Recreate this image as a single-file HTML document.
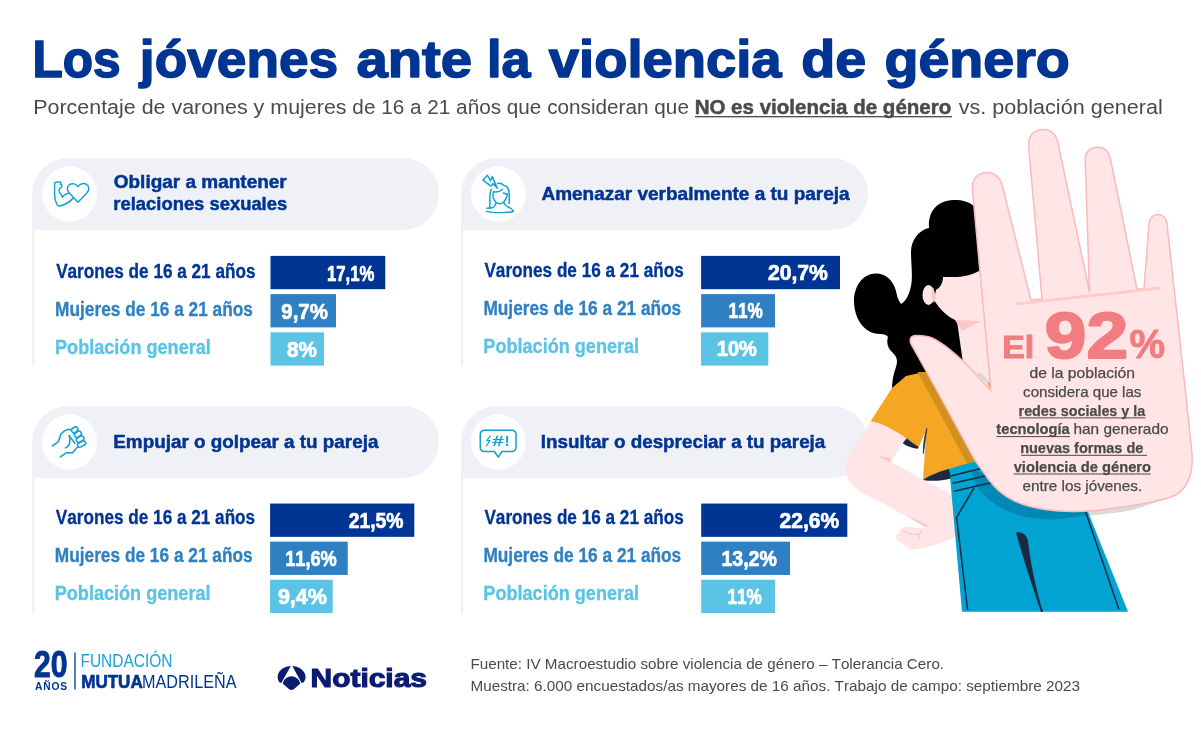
<!DOCTYPE html>
<html lang="es"><head><meta charset="utf-8"><title>Los jóvenes ante la violencia de género</title>
<style>
html,body{margin:0;padding:0;background:#fff}
svg{display:block}
text{font-family:"Liberation Sans",sans-serif;font-kerning:none}
.b{font-weight:bold}
</style></head><body>
<svg width="1201" height="731" viewBox="0 0 1201 731">
<rect width="1201" height="731" fill="#fff"/>

<text id="title" y="76.8" fill="#003594"><tspan x="32.43" font-size="51.5" class="b" stroke="#003594" stroke-width="1.5" stroke-linejoin="round" textLength="88.15" lengthAdjust="spacingAndGlyphs">Los</tspan> <tspan x="139.88" font-size="51.5" class="b" stroke="#003594" stroke-width="1.5" stroke-linejoin="round" textLength="198.25" lengthAdjust="spacingAndGlyphs">jóvenes</tspan> <tspan x="356.4" font-size="51.5" class="b" stroke="#003594" stroke-width="1.5" stroke-linejoin="round" textLength="115.77" lengthAdjust="spacingAndGlyphs">ante</tspan> <tspan x="487.11" font-size="51.5" class="b" stroke="#003594" stroke-width="1.5" stroke-linejoin="round" textLength="43.51" lengthAdjust="spacingAndGlyphs">la</tspan> <tspan x="548.84" font-size="51.5" class="b" stroke="#003594" stroke-width="1.5" stroke-linejoin="round" textLength="232.77" lengthAdjust="spacingAndGlyphs">violencia</tspan> <tspan x="801.17" font-size="51.5" class="b" stroke="#003594" stroke-width="1.5" stroke-linejoin="round" textLength="64.99" lengthAdjust="spacingAndGlyphs">de</tspan> <tspan x="884.47" font-size="51.5" class="b" stroke="#003594" stroke-width="1.5" stroke-linejoin="round" textLength="185.25" lengthAdjust="spacingAndGlyphs">género</tspan></text>
<text id="subtitle" y="114.3" fill="#4a4a4a"><tspan x="33.24" font-size="20.5" textLength="313.28" lengthAdjust="spacingAndGlyphs">Porcentaje de varones y mujeres</tspan> <tspan x="352.38" font-size="20.5" textLength="336.54" lengthAdjust="spacingAndGlyphs">de 16 a 21 años que consideran que</tspan> <tspan x="694.63" font-size="20.8" class="b" stroke="#4a4a4a" stroke-width="0.5" stroke-linejoin="round" textLength="256.67" lengthAdjust="spacingAndGlyphs">NO es violencia de género</tspan> <tspan x="958.68" font-size="20.5" textLength="204.02" lengthAdjust="spacingAndGlyphs">vs. población general</tspan></text>
<rect x="695" y="116.05" width="257" height="1.3" fill="#4a4a4a"/>
<g id="panel1">
<path d="M32.2,366.5 V194 A36,36 0 0 1 68.2,158 H403 A36,36 0 0 1 403,230 H34.400000000000006 V366.5 Z" fill="#eff1f6"/>
<circle cx="69.5" cy="194.0" r="27.5" fill="#fff"/>
<text x="113.77" y="187.7" font-size="18.6" fill="#003594" class="b" stroke="#003594" stroke-width="0.5" stroke-linejoin="round" textLength="172.97" lengthAdjust="spacingAndGlyphs">Obligar a mantener</text>
<text x="113.34" y="210.2" font-size="18.6" fill="#003594" class="b" stroke="#003594" stroke-width="0.5" stroke-linejoin="round" textLength="173.87" lengthAdjust="spacingAndGlyphs">relaciones sexuales</text>
<rect x="270.5" y="255.90" width="114.8" height="33.3" fill="#003594"/>
<text x="56.13" y="278.0" font-size="19.5" fill="#003594" class="b" stroke="#003594" stroke-width="0.3" stroke-linejoin="round" textLength="199.32" lengthAdjust="spacingAndGlyphs">Varones de 16 a 21 años</text>
<text x="327.0" y="280.7" font-size="22" fill="#ffffff" class="b" stroke="#ffffff" stroke-width="0.7" stroke-linejoin="round" textLength="47.39" lengthAdjust="spacingAndGlyphs">17,1%</text>
<rect x="270.5" y="294.10" width="65.5" height="33.3" fill="#2f80c2"/>
<text x="55.09" y="316.1" font-size="19.5" fill="#2f80c2" class="b" stroke="#2f80c2" stroke-width="0.3" stroke-linejoin="round" textLength="197.86" lengthAdjust="spacingAndGlyphs">Mujeres de 16 a 21 años</text>
<text x="281.34" y="318.8" font-size="22" fill="#ffffff" class="b" stroke="#ffffff" stroke-width="0.7" stroke-linejoin="round" textLength="46.55" lengthAdjust="spacingAndGlyphs">9,7%</text>
<rect x="270.5" y="332.30" width="53.5" height="33.3" fill="#5bc3e3"/>
<text x="55.04" y="354.1" font-size="19.5" fill="#5bc3e3" class="b" stroke="#5bc3e3" stroke-width="0.3" stroke-linejoin="round" textLength="155.79" lengthAdjust="spacingAndGlyphs">Población general</text>
<text x="286.99" y="356.8" font-size="22" fill="#ffffff" class="b" stroke="#ffffff" stroke-width="0.7" stroke-linejoin="round" textLength="29.9" lengthAdjust="spacingAndGlyphs">8%</text>
</g>
<g id="panel2">
<path d="M461,366.5 V194 A36,36 0 0 1 497,158 H832 A36,36 0 0 1 832,230 H463.2 V366.5 Z" fill="#eff1f6"/>
<circle cx="498.3" cy="194.0" r="27.5" fill="#fff"/>
<text x="541.48" y="199.7" font-size="18.6" fill="#003594" class="b" stroke="#003594" stroke-width="0.5" stroke-linejoin="round" textLength="308.15" lengthAdjust="spacingAndGlyphs">Amenazar verbalmente a tu pareja</text>
<rect x="701.1" y="255.90" width="138.9" height="33.3" fill="#003594"/>
<text x="484.43" y="277.2" font-size="19.5" fill="#003594" class="b" stroke="#003594" stroke-width="0.3" stroke-linejoin="round" textLength="199.32" lengthAdjust="spacingAndGlyphs">Varones de 16 a 21 años</text>
<text x="767.92" y="279.9" font-size="22" fill="#ffffff" class="b" stroke="#ffffff" stroke-width="0.7" stroke-linejoin="round" textLength="59.99" lengthAdjust="spacingAndGlyphs">20,7%</text>
<rect x="701.1" y="294.10" width="73.9" height="33.3" fill="#2f80c2"/>
<text x="483.39" y="315.2" font-size="19.5" fill="#2f80c2" class="b" stroke="#2f80c2" stroke-width="0.3" stroke-linejoin="round" textLength="197.86" lengthAdjust="spacingAndGlyphs">Mujeres de 16 a 21 años</text>
<text x="728.57" y="317.9" font-size="22" fill="#ffffff" class="b" stroke="#ffffff" stroke-width="0.7" stroke-linejoin="round" textLength="34.23" lengthAdjust="spacingAndGlyphs">11%</text>
<rect x="701.1" y="332.30" width="67.2" height="33.3" fill="#5bc3e3"/>
<text x="483.34" y="353.3" font-size="19.5" fill="#5bc3e3" class="b" stroke="#5bc3e3" stroke-width="0.3" stroke-linejoin="round" textLength="155.79" lengthAdjust="spacingAndGlyphs">Población general</text>
<text x="716.79" y="356.0" font-size="22" fill="#ffffff" class="b" stroke="#ffffff" stroke-width="0.7" stroke-linejoin="round" textLength="40.09" lengthAdjust="spacingAndGlyphs">10%</text>
</g>
<g id="panel3">
<path d="M32.2,614.5 V442 A36,36 0 0 1 68.2,406 H403 A36,36 0 0 1 403,478 H34.400000000000006 V614.5 Z" fill="#eff1f6"/>
<circle cx="69.5" cy="442.0" r="27.5" fill="#fff"/>
<text x="113.29" y="447.6" font-size="18.6" fill="#003594" class="b" stroke="#003594" stroke-width="0.5" stroke-linejoin="round" textLength="265.14" lengthAdjust="spacingAndGlyphs">Empujar o golpear a tu pareja</text>
<rect x="270.1" y="503.55" width="144.2" height="33.3" fill="#003594"/>
<text x="55.83" y="523.8" font-size="19.5" fill="#003594" class="b" stroke="#003594" stroke-width="0.3" stroke-linejoin="round" textLength="199.32" lengthAdjust="spacingAndGlyphs">Varones de 16 a 21 años</text>
<text x="348.68" y="528.3" font-size="22" fill="#ffffff" class="b" stroke="#ffffff" stroke-width="0.7" stroke-linejoin="round" textLength="54.78" lengthAdjust="spacingAndGlyphs">21,5%</text>
<rect x="270.1" y="541.65" width="77.6" height="33.3" fill="#2f80c2"/>
<text x="54.79" y="561.8" font-size="19.5" fill="#2f80c2" class="b" stroke="#2f80c2" stroke-width="0.3" stroke-linejoin="round" textLength="197.86" lengthAdjust="spacingAndGlyphs">Mujeres de 16 a 21 años</text>
<text x="285.2" y="566.3" font-size="22" fill="#ffffff" class="b" stroke="#ffffff" stroke-width="0.7" stroke-linejoin="round" textLength="51.63" lengthAdjust="spacingAndGlyphs">11,6%</text>
<rect x="270.1" y="579.75" width="62.6" height="33.3" fill="#5bc3e3"/>
<text x="54.74" y="599.9" font-size="19.5" fill="#5bc3e3" class="b" stroke="#5bc3e3" stroke-width="0.3" stroke-linejoin="round" textLength="155.79" lengthAdjust="spacingAndGlyphs">Población general</text>
<text x="277.9" y="604.4" font-size="22" fill="#ffffff" class="b" stroke="#ffffff" stroke-width="0.7" stroke-linejoin="round" textLength="49.01" lengthAdjust="spacingAndGlyphs">9,4%</text>
</g>
<g id="panel4">
<path d="M461,614.5 V442 A36,36 0 0 1 497,406 H832 A36,36 0 0 1 832,478 H463.2 V614.5 Z" fill="#eff1f6"/>
<circle cx="498.3" cy="442.0" r="27.5" fill="#fff"/>
<text x="540.69" y="447.6" font-size="18.6" fill="#003594" class="b" stroke="#003594" stroke-width="0.5" stroke-linejoin="round" textLength="284.64" lengthAdjust="spacingAndGlyphs">Insultar o despreciar a tu pareja</text>
<rect x="701.2" y="503.55" width="146.1" height="33.3" fill="#003594"/>
<text x="484.43" y="523.9" font-size="19.5" fill="#003594" class="b" stroke="#003594" stroke-width="0.3" stroke-linejoin="round" textLength="199.32" lengthAdjust="spacingAndGlyphs">Varones de 16 a 21 años</text>
<text x="779.62" y="528.3" font-size="22" fill="#ffffff" class="b" stroke="#ffffff" stroke-width="0.7" stroke-linejoin="round" textLength="59.58" lengthAdjust="spacingAndGlyphs">22,6%</text>
<rect x="701.2" y="541.65" width="88.8" height="33.3" fill="#2f80c2"/>
<text x="483.39" y="561.9" font-size="19.5" fill="#2f80c2" class="b" stroke="#2f80c2" stroke-width="0.3" stroke-linejoin="round" textLength="197.86" lengthAdjust="spacingAndGlyphs">Mujeres de 16 a 21 años</text>
<text x="721.42" y="566.3" font-size="22" fill="#ffffff" class="b" stroke="#ffffff" stroke-width="0.7" stroke-linejoin="round" textLength="55.45" lengthAdjust="spacingAndGlyphs">13,2%</text>
<rect x="701.2" y="579.75" width="73.8" height="33.3" fill="#5bc3e3"/>
<text x="483.34" y="600.0" font-size="19.5" fill="#5bc3e3" class="b" stroke="#5bc3e3" stroke-width="0.3" stroke-linejoin="round" textLength="155.79" lengthAdjust="spacingAndGlyphs">Población general</text>
<text x="727.57" y="604.4" font-size="22" fill="#ffffff" class="b" stroke="#ffffff" stroke-width="0.7" stroke-linejoin="round" textLength="34.23" lengthAdjust="spacingAndGlyphs">11%</text>
</g>
<g id="source">
<text x="470.45" y="669" font-size="15" fill="#4a4a4a" textLength="473.64" lengthAdjust="spacingAndGlyphs">Fuente: IV Macroestudio sobre violencia de género – Tolerancia Cero.</text>
<text x="470.45" y="691.3" font-size="15" fill="#4a4a4a" textLength="609.52" lengthAdjust="spacingAndGlyphs">Muestra: 6.000 encuestados/as mayores de 16 años. Trabajo de campo: septiembre 2023</text>
</g>
<g id="icons" fill="none" stroke="#109fd0" stroke-linecap="round" stroke-linejoin="round">
<g transform="translate(44,172) scale(0.06017)" stroke-width="24">
<path d="M478,436 C450,476 390,520 320,548 C290,560 262,566 244,566 C220,552 200,510 186,455 C178,420 176,385 176,350 L176,195 C176,180 182,172 196,170 L262,164 C276,164 284,172 282,186 L272,204 C286,206 298,214 299,232 C300,250 286,258 270,266 C254,280 248,300 254,332 C262,350 276,362 288,378 L306,420 C318,398 338,380 364,368 C380,362 396,358 412,350"/>
<path d="M565,245 C540,195 470,180 420,212 C378,244 376,302 420,350 L565,502 L715,345 C760,295 750,225 700,200 C650,180 590,200 565,245 Z"/>
</g>
<g transform="translate(473,170) scale(0.0657)" stroke-width="22">
<path d="M150,155 L220,80 L268,165 L292,100 L370,280 L305,205 L275,245 Z"/>
<path d="M278,295 C258,330 255,400 258,470 C260,520 262,555 250,570 C240,580 225,582 212,582 C250,584 290,580 318,560 C340,540 348,520 350,498"/>
<path d="M312,332 C295,380 305,440 345,488 C375,520 430,520 465,490 C500,455 520,410 528,368"/>
<path d="M312,332 C350,340 410,330 450,293"/>
<path d="M462,350 L528,372"/>
<path d="M375,205 C420,195 450,215 470,235 C520,240 545,290 550,350 C555,420 550,480 550,515"/>
<path d="M470,495 C480,520 500,545 530,560 C570,580 610,600 615,630"/>
<path d="M205,630 C300,655 500,655 615,632"/>
</g>
<g transform="translate(44,418) scale(0.0657)" stroke-width="23">
<path d="M128,425 L212,367 C238,335 240,275 262,238 C290,205 340,178 372,170 L418,178"/>
<rect x="-50" y="-36" width="100" height="72" rx="30" transform="translate(468,180) rotate(-36)"/>
<rect x="-54" y="-36" width="108" height="72" rx="30" transform="translate(516,248) rotate(-33)"/>
<rect x="-59" y="-35" width="118" height="70" rx="30" transform="translate(550,322) rotate(-30)"/>
<rect x="-64" y="-33" width="128" height="66" rx="28" transform="translate(572,398) rotate(-28)"/>
<path d="M382,268 L470,385"/>
<path d="M382,268 C392,300 398,340 392,370 C385,410 365,440 328,452"/>
<path d="M510,440 L435,528 L345,528 L248,592"/>
</g>
<g transform="translate(473,418) scale(0.0657)" stroke-width="23">
<path d="M180,185 H585 C630,185 655,215 655,255 V440 C655,485 630,510 585,510 H440 L385,595 L325,510 H180 C135,510 110,485 110,440 V255 C110,215 135,185 180,185 Z"/>
<path d="M262,275 L210,345 L258,345 L205,422" stroke-width="18"/>
</g>
</g>
<text x="492.6" y="446.4" font-size="15" fill="#109fd0" stroke="#109fd0" stroke-width="0.4" textLength="11" lengthAdjust="spacingAndGlyphs">#</text>
<text x="504.7" y="446.4" font-size="14.5" class="b" fill="#109fd0">!</text>

<g id="logo-fmm">
<text x="34" y="677.2" font-size="36" class="b" fill="#003594" stroke="#003594" stroke-width="0.9" textLength="33.5" lengthAdjust="spacingAndGlyphs">20</text>
<text x="35" y="689.5" font-size="10.2" class="b" fill="#003594" textLength="32" lengthAdjust="spacing">AÑOS</text>
<path d="M75,652.5 V689.5" stroke="#003594" stroke-width="1.3"/>
<text x="80.43" y="666.9" font-size="18.8" fill="#1ea0dc" textLength="92.14" lengthAdjust="spacingAndGlyphs">FUNDACIÓN</text>
<text x="81.2" y="688" font-size="18.6" fill="#003594" stroke="#003594" stroke-width="0.7" class="b" textLength="61.5" lengthAdjust="spacingAndGlyphs">MUTUA</text>
<text x="142.07" y="688" font-size="18.6" fill="#003594" textLength="94.46" lengthAdjust="spacingAndGlyphs">MADRILEÑA</text>
</g>
<g id="logo-a3n" fill="#0a1c72">
<path d="M290.8,665.9 C286,666 281.5,668.3 279.2,671.8 C277,675.2 277,679.2 279.3,682.2 L281.3,683 Z"/>
<path d="M292.3,665.9 C297,666 301.5,668.3 303.8,671.8 C306.2,675.2 306.2,679.2 303.7,682.2 L301.6,683 Z"/>
<path d="M291.5,676.2 C287.5,676.2 284,679 282.6,683.6 L289.2,689.2 C290.7,690.3 292.3,690.3 293.8,689.2 L300.4,683.6 C299,679 295.5,676.2 291.5,676.2 Z"/>
<text x="310.55" y="687" font-size="26" class="b" stroke="#0a1c72" stroke-width="1.1" textLength="116.43" lengthAdjust="spacingAndGlyphs">Noticias</text>
</g>

<g id="illus">
<!-- grey shadow under hand -->
<path d="M1086,508 L1180,486 C1176,493 1168,499 1152,503.5 C1140,508 1130,511 1120,512.3 L1088,516 Z" fill="#dadada"/>
<!-- hair -->
<path d="M974,206 C968,201 960,199.5 953,200 C938,201 928,210 929,228 C919,230 911,240 911,252 C911,264 913,276 911,286 C909,296 905,302 901,304 C898,300 897,296 896,291 C893,280 886,273.5 876,273.5 C863,273.5 854,286 854,301 C854,318 864,334 880,334 C884,334 887,335 888,337 C886,343 888,349 893,353 C897,357 898,361 896,367 C893,375 892,382 892,390 L960,390 L985,300 Z" fill="#000"/>
<!-- neck & face -->
<path d="M979,271 C972,275 962,277.5 950,277 C947,277 944,277 943,277 C943,282 941,287 936,290 L934,300 C940,310 948,317 957,321 L962,356 L968,395 L995,395 L990,271 Z" fill="#ffe5e5"/>
<path d="M955,320 L981,321 L962,331 Z" fill="#ffc6c8"/>
<ellipse cx="928.5" cy="295" rx="6" ry="10" fill="#ffe5e5"/>
<path d="M933,287 C931,292 931,298 934,303 L936,297 Z" fill="#ffc6c8"/>
<!-- arm -->
<path d="M871,421 L851,451.5 C845,461 843.5,471 849,480 C852.5,485.5 857,490 862,493 L880,501.5 L925,527 C921,529.5 915,527.5 908.7,526.8 C905,526.4 902.5,526.8 901,529 C899.5,531 898.5,532 897.5,534 C895.5,536 895,538 896.5,539.5 L909,548.5 C910.5,549.7 912.5,549.6 915,549.2 C925,548 938,545 949,539.8 C953,538 956,536 958,534 L958,498 L922.7,479.3 L890.7,462 L903,443 L915,430 Z" fill="#ffe5e5"/>
<path d="M876,455 L892,458.7 L890,462.4 Z" fill="#ffc6c8"/>
<path d="M905.9,515.4 L929.8,525.4 L925,527 Z" fill="#ffc6c8"/>
<path d="M902.5,531 C906,531 909,533.5 912,534 C914,534.5 916,534.5 918.3,534.3 M921.2,530.7 C919.5,533.5 918.6,536.5 918.3,539.8" stroke="#ffc6c8" stroke-width="1.2" fill="none" stroke-linecap="round"/>
<!-- jeans -->
<path d="M949.3,468.7 L975,458 L1100,500 L1088,512 L1128,611.7 L962,611.7 Z" fill="#00a3d2"/>
<path d="M972,470 L976,486 C984,496 996,507 1010,512 C1024,518 1040,520 1060,519 L1088,515 L1084,500 Z" fill="#0088b5"/>
<g stroke="#1b2a41" stroke-width="1.5" fill="none">
<path d="M950.7,476 L990,466.2"/><path d="M952.7,483.3 L995.3,473.8"/><path d="M954,491.3 L1000.7,480.4"/>
<path d="M974,488 L956.6,517.3 L967.6,610"/>
<path d="M1085,510 L1118.8,609"/>
</g>
<path d="M1016,532.5 C1022,531 1027,535 1028,541 C1030,560 1036,590 1043,612 L1041,612 C1032,585 1022,555 1016,532.5 Z" fill="#1b2a41"/>
<!-- shirt -->
<path d="M924,372 L906,376 L892,388 L870.7,421.3 C880,422.5 893,429 906.7,438.5 L918.7,447.5 L926.5,429 L923,479.5 L949.3,468.7 L976,461 L930,372 Z" fill="#f5a623"/>
<path d="M902.7,443.3 L906.7,438.2 C911,441.5 915,444.5 918.5,446.7 L918,448.8 C913,448.5 907,446.5 902.7,443.3 Z" fill="#1b2a41"/>
<path d="M923,480 C928,476 938,472 949.3,468.7 L950.8,478.5 C942,481 931,481.5 923,480 Z" fill="#1b2a41"/>
<path d="M926.8,428.5 C924.5,436 923.2,445 923.4,453.5 C924.6,445 925.6,437 926.8,428.5 Z" fill="#1b2a41" stroke="#1b2a41" stroke-width="0.8"/>
<path d="M917.5,372 L930,372 L977,461 L967,463.3 Z" fill="#d3901e"/>
<path d="M976.5,373.5 L980,372.5 L990.5,382.5 L988,384 Z" fill="#d9d4d4"/>
<path d="M987.5,383.6 L990.5,382 L991.5,392 Z" fill="#e9a024"/>
<!-- hand -->
<path d="M991,391 L972.4,189 C971.5,179 978,172.6 987,172.6 C995,172.6 1000,178 1002.4,186 L1031,300 L1042,299 L1028.6,146 C1028,136 1034,129.6 1043,129.6 C1051,129.6 1056.5,135 1058,143 L1089.5,292 L1085.2,160 C1085,152 1090,147.2 1097.5,147.2 C1104.5,147.2 1109,152 1110.4,159 L1137,289 L1144,289 L1149,224 C1149.5,218 1153,214.4 1158,214.4 C1163,214.4 1166.5,218 1167,224 L1186,396 L1192,454 C1193,470 1190,486 1176,495 C1160,502 1130,506 1100,510 C1085,512 1062,512 1045,509.5 C1022,506 1003,499 989,480 L974.7,460 L942,400 L920,360 L911,344 C909,339 911,335.5 916,335.5 C922,335.5 928,336 932,338 C945,344 960,358 970,368 Z" fill="#ffe5e5" stroke="#fbb9bb" stroke-width="1.5" stroke-linejoin="round"/>
<path d="M1015,304 L1161,288" stroke="#ffcccd" stroke-width="3" fill="none"/>
</g>

<g id="handtext">
<text y="358" fill="#f27d80"><tspan x="1002.23" font-size="32" class="b" stroke="#f27d80" stroke-width="1.0" stroke-linejoin="round" textLength="32.07" lengthAdjust="spacingAndGlyphs">El</tspan> <tspan x="1044.81" font-size="64" class="b" stroke="#f27d80" stroke-width="2.0" stroke-linejoin="round" textLength="83.19" lengthAdjust="spacingAndGlyphs">92</tspan> <tspan x="1129.4" font-size="40" class="b" stroke="#f27d80" stroke-width="0.8" stroke-linejoin="round" textLength="35.66" lengthAdjust="spacingAndGlyphs">%</tspan></text>
<text x="1029.47" y="378.3" font-size="15" fill="#4a4a4a" stroke="#4a4a4a" stroke-width="0.25" stroke-linejoin="round" textLength="105.43" lengthAdjust="spacingAndGlyphs">de la población</text>
<text x="1023.08" y="397.0" font-size="15" fill="#4a4a4a" stroke="#4a4a4a" stroke-width="0.25" stroke-linejoin="round" textLength="118.34" lengthAdjust="spacingAndGlyphs">considera que las</text>
<text x="1018.58" y="415.7" font-size="15" fill="#4a4a4a" class="b" stroke="#4a4a4a" stroke-width="0.25" stroke-linejoin="round" textLength="126.6" lengthAdjust="spacingAndGlyphs">redes sociales y la</text>
<text y="434.4" fill="#4a4a4a"><tspan x="996.35" font-size="15" class="b" stroke="#4a4a4a" stroke-width="0.25" stroke-linejoin="round" textLength="73.44" lengthAdjust="spacingAndGlyphs">tecnología</tspan> <tspan x="1073.46" font-size="15" stroke="#4a4a4a" stroke-width="0.25" stroke-linejoin="round" textLength="95.06" lengthAdjust="spacingAndGlyphs">han generado</tspan></text>
<text x="1020.17" y="453.1" font-size="15" fill="#4a4a4a" class="b" stroke="#4a4a4a" stroke-width="0.25" stroke-linejoin="round" textLength="123.2" lengthAdjust="spacingAndGlyphs">nuevas formas de</text>
<text x="1013.67" y="471.8" font-size="15" fill="#4a4a4a" class="b" stroke="#4a4a4a" stroke-width="0.25" stroke-linejoin="round" textLength="137.38" lengthAdjust="spacingAndGlyphs">violencia de género</text>
<text x="1022.48" y="490.5" font-size="15" fill="#4a4a4a" stroke="#4a4a4a" stroke-width="0.25" stroke-linejoin="round" textLength="119.79" lengthAdjust="spacingAndGlyphs">entre los jóvenes.</text>
<rect x="1019.4" y="417.4" width="126.0" height="1.0" fill="#4a4a4a"/>
<rect x="996.4" y="436.1" width="73.6" height="1.0" fill="#4a4a4a"/>
<rect x="1021" y="454.8" width="126" height="1.0" fill="#4a4a4a"/>
<rect x="1013.6" y="473.5" width="137.0" height="1.0" fill="#4a4a4a"/>
</g>
</svg></body></html>
